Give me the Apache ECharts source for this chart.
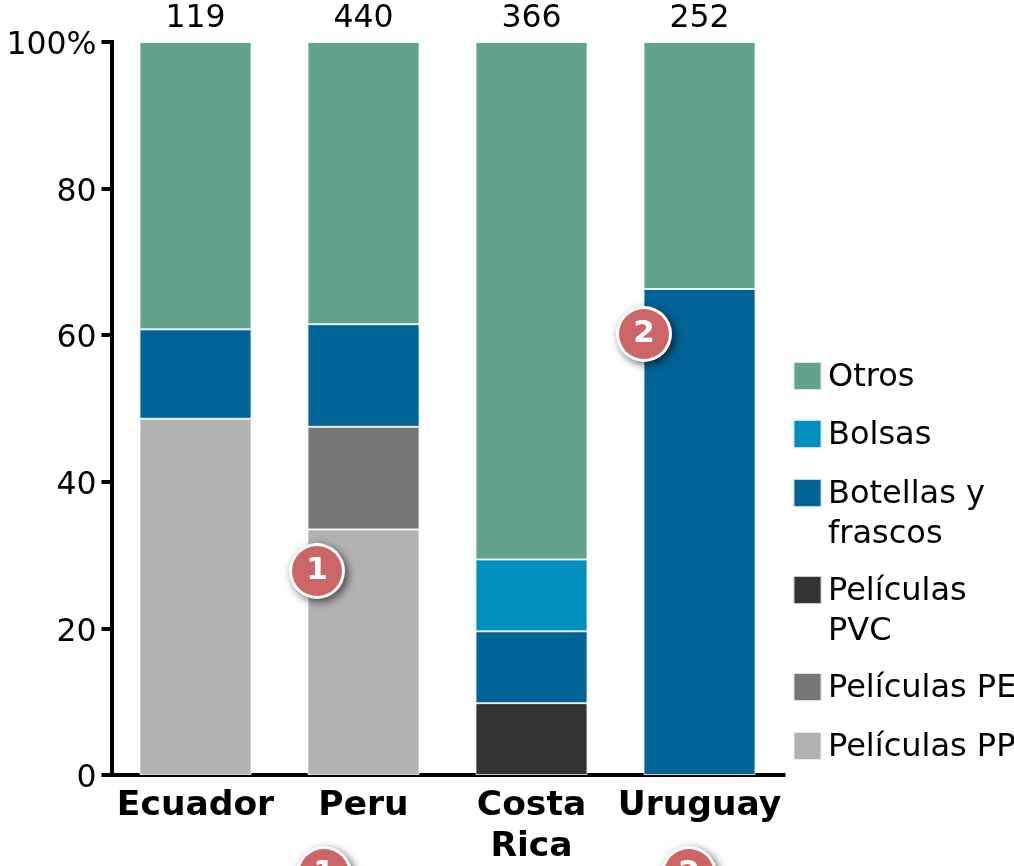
<!DOCTYPE html>
<html><head><meta charset="utf-8">
<style>html,body{margin:0;padding:0;background:#fff}#c{width:1014px;height:866px}</style>
<script src="https://cdn.jsdelivr.net/npm/echarts@6/dist/echarts.min.js"></script>
</head><body><div id="c"></div>
<script>
const categories = ['Ecuador', 'Peru', 'Costa\nRica', 'Uruguay'];
const totals = ['119', '440', '366', '252'];
const peliculasPP = [48.6, 33.5, null, null];
const peliculasPE = [null, 14, null, null];
const peliculasPVC = [null, null, 9.8, null];
const botellas = [12.2, 14, 9.8, 66.3];
const bolsas = [null, null, 9.8, null];
const otros = [39.2, 38.5, 70.6, 33.7];
const legendRows = [
  ['Otros', '', 362], ['Bolsas', '', 420], ['Botellas y frascos', 'frascos', 479],
  ['Películas PVC', 'PVC', 576], ['Películas PE', '', 673], ['Películas PP', '', 732]
];
const badges = [['1', 317, 571], ['2', 644, 334], ['1', 324, 874], ['2', 689, 874]];

const FONT = '"DejaVu Sans"';
const mk = (name, data, color) => ({
  name, type: 'bar', stack: 'a', data, barWidth: 112,
  itemStyle: {color, borderColor: 'rgba(255,255,255,0.75)', borderWidth: 1}
});
const chart = echarts.init(document.getElementById('c'), null, {renderer: 'canvas'});
const graphic = [];
legendRows.forEach(r => {
  if (r[1]) graphic.push({type: 'text', left: 828, top: r[2] + 40, style: {text: r[1], font: '32px ' + FONT, fill: '#000'}});
});
badges.forEach(b => {
  graphic.push({type: 'circle', shape: {cx: b[1], cy: b[2], r: 28}, z: 20,
    style: {fill: '#fff', shadowBlur: 8, shadowOffsetX: 3, shadowOffsetY: 3, shadowColor: 'rgba(0,0,0,0.6)'}});
  graphic.push({type: 'circle', shape: {cx: b[1], cy: b[2], r: 25}, z: 21, style: {fill: '#CC6666'}});
  graphic.push({type: 'text', x: b[1], y: b[2], z: 22,
    style: {text: b[0], font: 'bold 31px ' + FONT, fill: '#fff', align: 'center', verticalAlign: 'middle'}});
});
chart.setOption({
  animation: false,
  backgroundColor: '#fff',
  grid: {left: 111.5, top: 42, width: 672, height: 733, outerBoundsMode: 'none'},
  legend: legendRows.map(r => ({
    data: [r[0]], left: 792.5, top: r[2] - 1, orient: 'vertical', itemWidth: 28, itemHeight: 28, itemGap: 0,
    padding: 0, icon: 'rect', selectedMode: false,
    formatter: n => '{a|' + (r[1] ? n.replace(' ' + r[1], '') : n) + '}',
    textStyle: {fontFamily: FONT, fontSize: 32, color: '#000',
      rich: {a: {fontFamily: FONT, fontSize: 32, color: '#000', padding: [4, 0, 0, 1.5]}}}
  })),
  xAxis: [
    {type: 'category', data: categories, position: 'bottom',
     axisLine: {lineStyle: {color: '#000', width: 4, cap: 'square'}}, axisTick: {show: false},
     axisLabel: {interval: 0, fontFamily: FONT, fontWeight: 'bold', fontSize: 34.5, color: '#000', lineHeight: 41, margin: 10.5}},
    {type: 'category', data: totals, position: 'top',
     axisLine: {show: false}, axisTick: {show: false},
     axisLabel: {interval: 0, fontFamily: FONT, fontSize: 31.5, color: '#000', margin: 7}}
  ],
  yAxis: {type: 'value', min: 0, max: 100, interval: 20,
    axisLine: {show: true, lineStyle: {color: '#000', width: 4, cap: 'square'}},
    axisTick: {show: true, length: 10, lineStyle: {color: '#000', width: 4}},
    splitLine: {show: false},
    axisLabel: {fontFamily: FONT, fontSize: 31.5, color: '#000', margin: 15, verticalAlign: 'top', padding: [-12, 0, 0, 0],
      formatter: v => v === 100 ? '100%' : String(v)}},
  series: [
    mk('Películas PP', peliculasPP, '#B2B2B2'),
    mk('Películas PE', peliculasPE, '#777777'),
    mk('Películas PVC', peliculasPVC, '#333333'),
    mk('Botellas y frascos', botellas, '#006496'),
    mk('Bolsas', bolsas, '#008FBE'),
    mk('Otros', otros, '#63A38C')
  ],
  graphic
});
</script></body></html>
